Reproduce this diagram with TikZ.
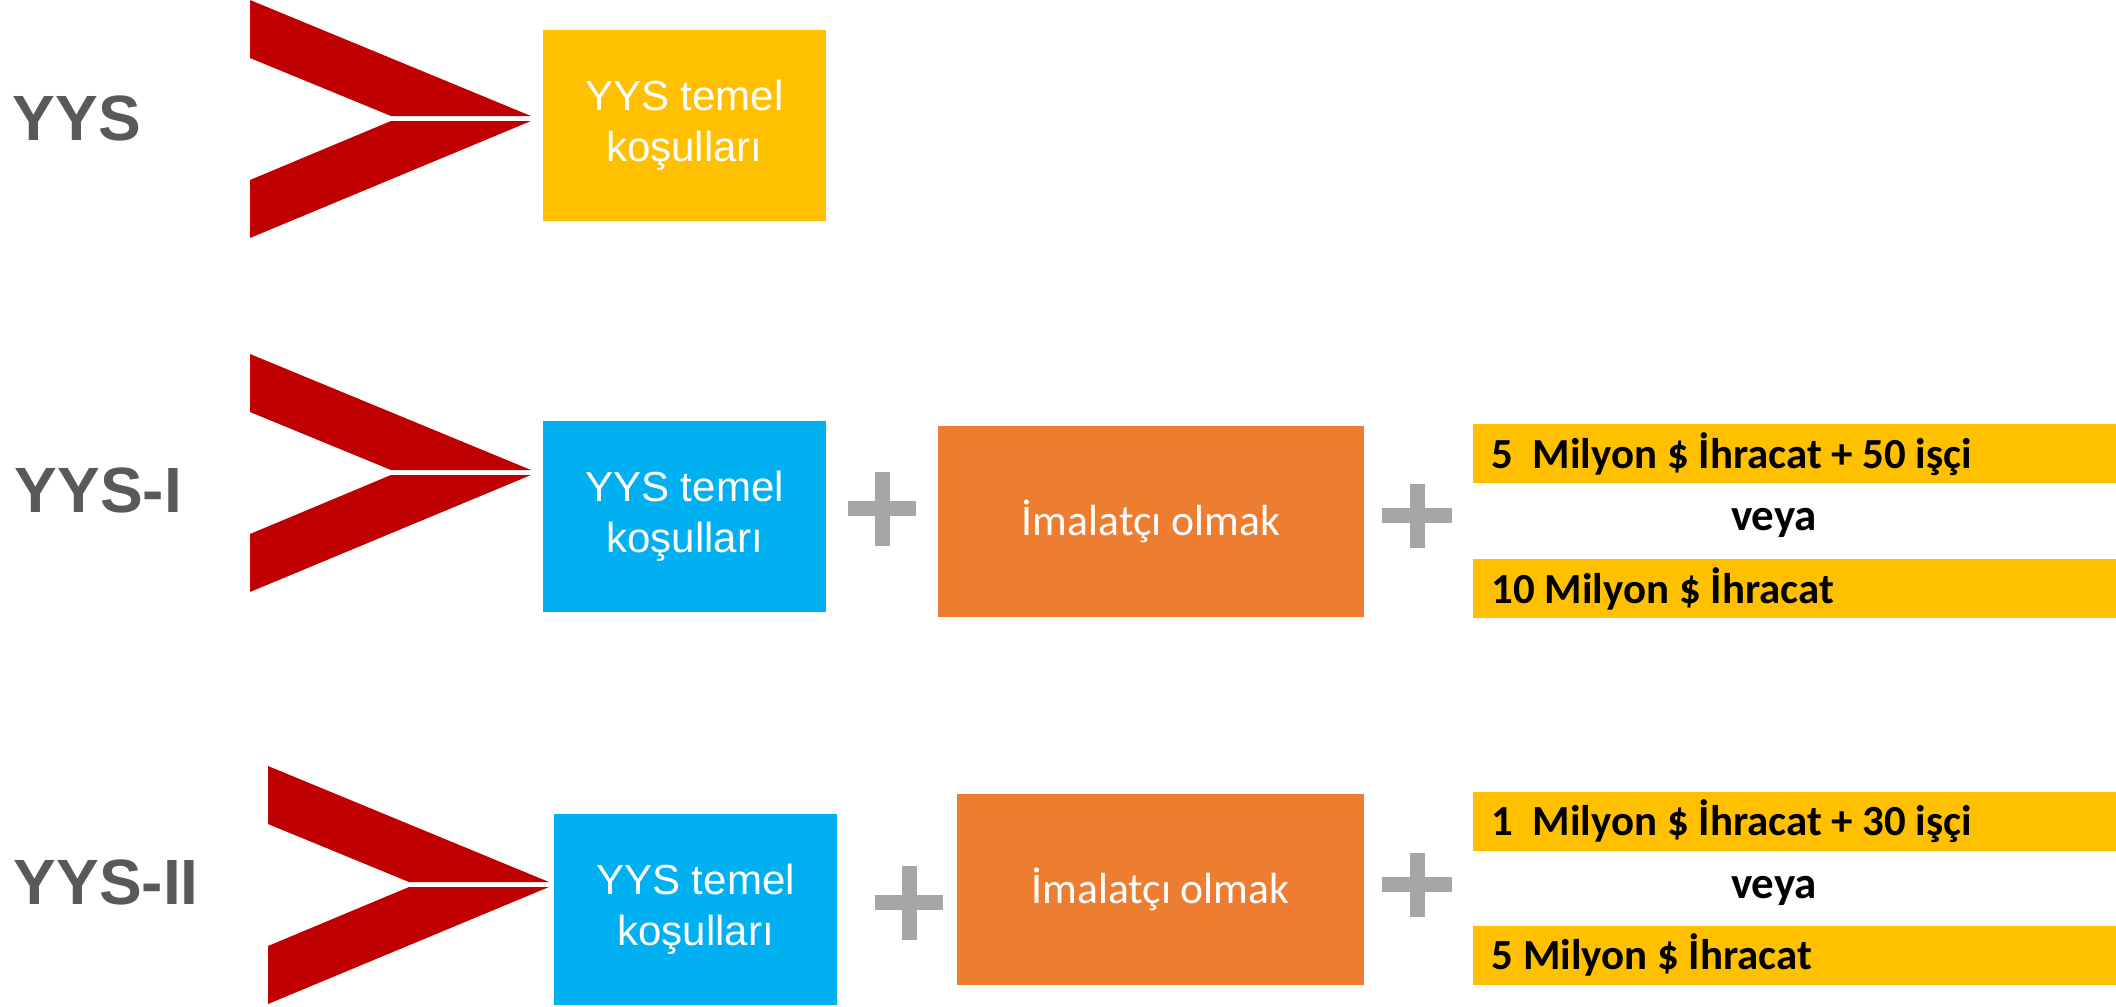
\documentclass[tikz,border=0pt]{standalone}
\usepackage{fontspec}
\newfontfamily\arialfont{Liberation Sans}
\newfontfamily\calibrifont{Carlito}
\definecolor{chevronred}{HTML}{C00000}
\definecolor{yysyellow}{HTML}{FFC000}
\definecolor{yysblue}{HTML}{00B0F0}
\definecolor{yysorange}{HTML}{ED7D31}
\definecolor{plusgray}{HTML}{A6A6A6}
\definecolor{labelgray}{HTML}{595959}

\begin{document}
\begin{tikzpicture}[
  x=0.01cm, y=-0.01cm,
  rowlabel/.style={anchor=base west, inner sep=0, text=labelgray, font=\arialfont\bfseries\fontsize{18.2}{20}\selectfont},
  condbox/.style={rectangle, inner sep=0, align=center, text=white, minimum height=1.907cm},
  temel/.style={condbox, minimum width=2.83cm, font=\arialfont\fontsize{11.95}{14.4}\selectfont},
  imalat/.style={condbox, fill=yysorange, font=\calibrifont\fontsize{12.4}{14.4}\selectfont},
  export/.style={anchor=base west, inner sep=0, font=\calibrifont\bfseries\fontsize{12.2}{14.4}\selectfont},
  veya/.style={anchor=base, inner sep=0, font=\calibrifont\bfseries\fontsize{12.8}{15}\selectfont},
  chevron/.pic={
    \fill[chevronred] (0,0) -- (281,116) -- (141,116) -- (0,58) -- cycle;
    \fill[chevronred] (0,238) -- (281,121) -- (141,121) -- (0,180) -- cycle;
  },
  plusTall/.pic={
    \fill[plusgray] (-34,-7.5) rectangle (34,7.5);
    \fill[plusgray] (-7.5,-37) rectangle (7.5,37);
  },
  plusWide/.pic={
    \fill[plusgray] (-35,-7.5) rectangle (35,7.5);
    \fill[plusgray] (-7.5,-32) rectangle (7.5,32);
  }
]
\useasboundingbox (0,0) rectangle (2116,1006);

% YYS
\node[rowlabel] (lbl1) at (12,140) {YYS};
\pic at (250,0) {chevron};
\node[temel, fill=yysyellow] (temel1) at (684.3,125.4) {YYS temel\\koşulları};

% YYS-I
\node[rowlabel] (lbl2) at (14,512.3) {YYS-I};
\pic at (250,354) {chevron};
\node[temel, fill=yysblue] (temel2) at (684.5,516.4) {YYS temel\\koşulları};
\pic at (882,508.7) {plusTall};
\node[imalat, minimum width=4.26cm] (imal2) at (1151,521.4) {İmalatçı olmak};
\pic at (1417,515.6) {plusWide};
\fill[yysyellow] (1473,424) rectangle (2116,483);
\fill[yysyellow] (1473,559) rectangle (2116,618);
\node[export] (exp2a) at (1491,468) {5~~Milyon \$ İhracat + 50 işçi};
\node[veya] (or2) at (1774,530) {veya};
\node[export] (exp2b) at (1491,603) {10 Milyon \$ İhracat};

% YYS-II
\node[rowlabel] (lbl3) at (13,904) {YYS-II};
\pic at (268,766) {chevron};
\node[temel, fill=yysblue] (temel3) at (695.5,909.4) {YYS temel\\koşulları};
\pic at (909,902.7) {plusTall};
\node[imalat, minimum width=4.07cm] (imal3) at (1160.5,889.4) {İmalatçı olmak};
\pic at (1417,884.7) {plusWide};
\fill[yysyellow] (1473,792) rectangle (2116,850.7);
\fill[yysyellow] (1473,926) rectangle (2116,984.8);
\node[export] (exp3a) at (1491,835) {1~~Milyon \$ İhracat + 30 işçi};
\node[veya] (or3) at (1774,898) {veya};
\node[export] (exp3b) at (1491,969) {5 Milyon \$ İhracat};

\end{tikzpicture}
\end{document}
